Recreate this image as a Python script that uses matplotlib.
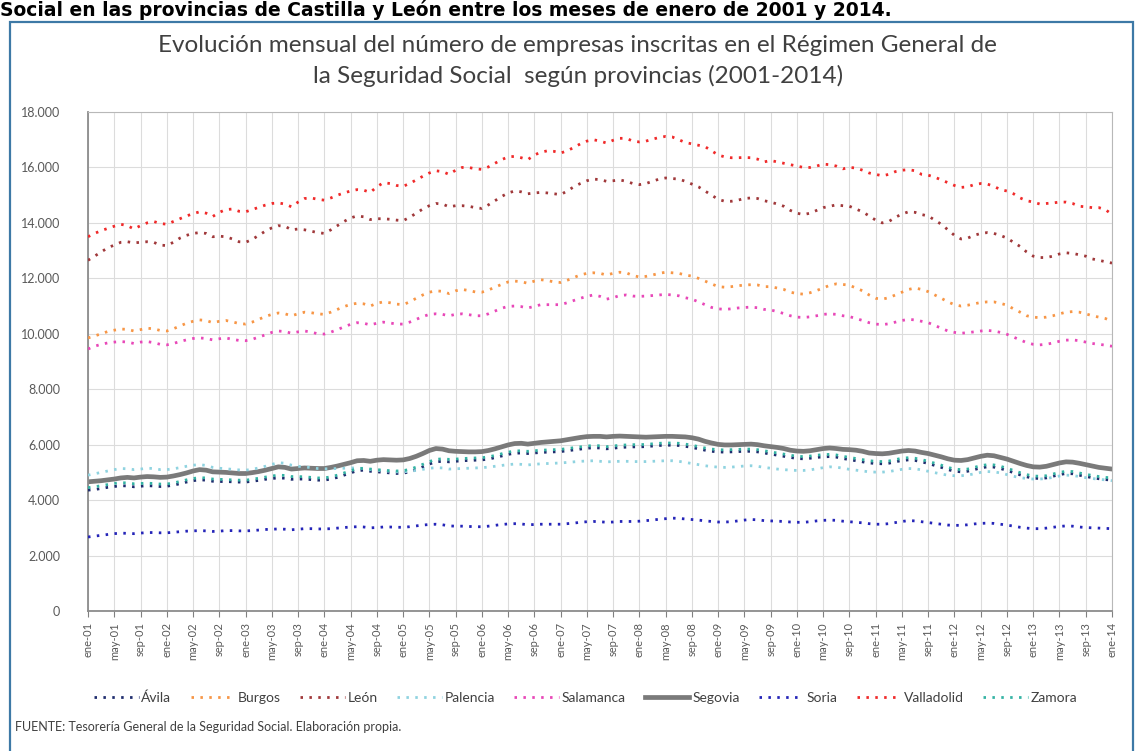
import numpy as np
import matplotlib
matplotlib.use("Agg")
import matplotlib.pyplot as plt
from matplotlib.patches import Rectangle
from matplotlib.lines import Line2D
from matplotlib.ticker import FuncFormatter

# monthly values, ene-01 ... ene-14 (157 months)
avila = [4360, 4380, 4420, 4460, 4490, 4520, 4510, 4480, 4500, 4520, 4510, 4490,
         4500, 4540, 4590, 4650, 4700, 4730, 4720, 4680, 4670, 4670, 4660, 4650,
         4650, 4680, 4710, 4750, 4780, 4800, 4790, 4750, 4760, 4760, 4740, 4720,
         4720, 4760, 4820, 4900, 4980, 5060, 5080, 5040, 5020, 5000, 4980, 4960,
         4970, 5020, 5100, 5200, 5300, 5380, 5400, 5380, 5400, 5420, 5430, 5440,
         5450, 5480, 5530, 5590, 5650, 5690, 5700, 5680, 5700, 5720, 5730, 5740,
         5750, 5780, 5810, 5840, 5870, 5890, 5880, 5850, 5870, 5900, 5910, 5920,
         5920, 5930, 5950, 5970, 5980, 5980, 5970, 5940, 5900, 5850, 5800, 5760,
         5740, 5730, 5740, 5750, 5760, 5760, 5740, 5700, 5660, 5620, 5580, 5540,
         5500, 5490, 5510, 5540, 5560, 5570, 5550, 5500, 5460, 5420, 5380, 5340,
         5320, 5310, 5330, 5380, 5430, 5450, 5430, 5380, 5320, 5250, 5180, 5100,
         5040, 5020, 5040, 5100, 5160, 5200, 5190, 5140, 5070, 4990, 4910, 4840,
         4790, 4780, 4800, 4860, 4920, 4960, 4950, 4900, 4850, 4810, 4770, 4740,
         4720]
burgos = [9850, 9920, 10000, 10080, 10130, 10170, 10160, 10100, 10150, 10200, 10180, 10120,
          10100, 10180, 10280, 10380, 10450, 10500, 10480, 10400, 10450, 10480, 10430, 10370,
          10350, 10420, 10520, 10620, 10700, 10750, 10720, 10650, 10720, 10780, 10760, 10720,
          10700, 10780, 10880, 10980, 11060, 11100, 11080, 11000, 11100, 11150, 11120, 11070,
          11050, 11150, 11280, 11400, 11500, 11550, 11530, 11450, 11550, 11600, 11560, 11510,
          11500, 11580, 11680, 11780, 11870, 11900, 11880, 11820, 11900, 11950, 11920, 11870,
          11850, 11930, 12030, 12120, 12180, 12200, 12180, 12120, 12180, 12220, 12200, 12100,
          12050, 12070, 12120, 12180, 12220, 12200, 12180, 12120, 12080, 12000, 11900, 11800,
          11700, 11680, 11700, 11730, 11760, 11770, 11760, 11700, 11700, 11650, 11600, 11500,
          11450, 11430, 11480, 11560, 11650, 11750, 11800, 11780, 11750, 11650, 11550, 11400,
          11280, 11250, 11300, 11400, 11500, 11600, 11650, 11600, 11520, 11400, 11280, 11150,
          11050, 11000, 11030, 11080, 11130, 11150, 11150, 11100, 11030, 10900, 10780, 10650,
          10600, 10580, 10600, 10650, 10720, 10780, 10800, 10780, 10720, 10650, 10600, 10550,
          10450]
leon = [12650, 12800, 12950, 13100, 13200, 13300, 13320, 13280, 13300, 13320, 13300, 13200,
        13180, 13300, 13450, 13550, 13620, 13650, 13620, 13500, 13520, 13500, 13420, 13320,
        13300, 13400, 13550, 13700, 13820, 13900, 13880, 13750, 13780, 13750, 13700, 13650,
        13620, 13750, 13900, 14050, 14180, 14250, 14220, 14120, 14150, 14150, 14130, 14100,
        14080, 14200, 14350, 14500, 14620, 14700, 14680, 14580, 14620, 14620, 14600, 14550,
        14520, 14650, 14800, 14950, 15080, 15150, 15120, 15050, 15080, 15100, 15080, 15050,
        15020, 15150, 15300, 15420, 15520, 15580, 15560, 15500, 15520, 15550, 15500, 15420,
        15380, 15420, 15500, 15580, 15620, 15600, 15580, 15500, 15400, 15300, 15150, 15000,
        14850, 14780, 14780, 14820, 14880, 14900, 14880, 14800, 14750, 14680, 14600, 14450,
        14350, 14300, 14350, 14450, 14550, 14600, 14650, 14620, 14600, 14500, 14400, 14250,
        14100, 14000, 14050, 14200, 14320, 14400, 14380, 14300, 14250, 14100, 13950, 13750,
        13550, 13420, 13450, 13550, 13620, 13650, 13620, 13550, 13450, 13300, 13150, 12950,
        12800, 12750, 12750, 12800, 12880, 12920, 12900, 12850, 12800, 12700, 12650, 12600,
        12550]
palencia = [4900, 4950, 5000, 5050, 5100, 5140, 5130, 5100, 5120, 5150, 5140, 5100,
            5100, 5130, 5170, 5220, 5260, 5280, 5250, 5180, 5150, 5130, 5110, 5090,
            5080, 5110, 5160, 5220, 5290, 5350, 5330, 5260, 5220, 5200, 5170, 5140,
            5130, 5130, 5140, 5150, 5160, 5160, 5140, 5100, 5080, 5060, 5040, 5020,
            5020, 5040, 5070, 5110, 5150, 5170, 5160, 5120, 5130, 5140, 5150, 5160,
            5170, 5190, 5220, 5250, 5280, 5300, 5290, 5270, 5290, 5310, 5320, 5330,
            5340, 5360, 5380, 5400, 5410, 5420, 5400, 5380, 5390, 5400, 5400, 5390,
            5390, 5390, 5400, 5410, 5420, 5420, 5400, 5360, 5320, 5280, 5240, 5210,
            5190, 5180, 5190, 5210, 5230, 5240, 5220, 5180, 5150, 5120, 5100, 5080,
            5070, 5070, 5090, 5130, 5170, 5200, 5190, 5150, 5110, 5080, 5050, 5020,
            5010, 5010, 5030, 5070, 5110, 5140, 5130, 5090, 5040, 4990, 4940, 4900,
            4880, 4880, 4900, 4950, 5000, 5030, 5020, 4980, 4920, 4860, 4810, 4780,
            4760, 4760, 4780, 4820, 4870, 4900, 4890, 4850, 4810, 4780, 4750, 4730,
            4700]
salamanca = [9450, 9550, 9620, 9670, 9700, 9720, 9700, 9650, 9700, 9720, 9680, 9620,
             9600, 9650, 9720, 9780, 9830, 9850, 9830, 9780, 9820, 9850, 9800, 9760,
             9750, 9800, 9880, 9960, 10050, 10100, 10080, 10020, 10070, 10100, 10060, 10000,
             9990, 10060, 10150, 10250, 10340, 10400, 10380, 10320, 10380, 10420, 10390, 10350,
             10350, 10420, 10520, 10620, 10700, 10720, 10700, 10650, 10700, 10720, 10690, 10650,
             10650, 10720, 10820, 10920, 10990, 11000, 10980, 10930, 10990, 11050, 11050, 11050,
             11050, 11120, 11200, 11280, 11350, 11400, 11350, 11250, 11300, 11380, 11400, 11360,
             11350, 11360, 11380, 11400, 11420, 11400, 11370, 11300, 11250, 11150, 11050, 10950,
             10900, 10880, 10900, 10930, 10950, 10960, 10940, 10880, 10860, 10800, 10730, 10650,
             10600, 10590, 10610, 10650, 10700, 10720, 10700, 10650, 10620, 10550, 10480, 10400,
             10350, 10330, 10360, 10420, 10480, 10520, 10500, 10450, 10400, 10300, 10200, 10100,
             10050, 10020, 10040, 10070, 10100, 10120, 10100, 10050, 9980, 9880, 9780, 9680,
             9620, 9600, 9620, 9670, 9730, 9770, 9780, 9750, 9700, 9650, 9620, 9590,
             9550]
segovia = [4660, 4680, 4700, 4730, 4760, 4800, 4820, 4800, 4830, 4850, 4840, 4820,
           4830, 4870, 4920, 4980, 5050, 5100, 5080, 5020, 5010, 5000, 4980, 4960,
           4960, 4990, 5030, 5080, 5140, 5200, 5180, 5120, 5140, 5160, 5150, 5140,
           5140, 5180, 5230, 5290, 5350, 5420, 5430, 5400, 5440, 5460, 5450, 5440,
           5450, 5500, 5580, 5680, 5790, 5860, 5840, 5780, 5760, 5750, 5740, 5740,
           5750, 5790, 5850, 5920, 5990, 6040, 6050, 6020, 6050, 6080, 6100, 6120,
           6140, 6180, 6220, 6260, 6290, 6300, 6300, 6280, 6300, 6310, 6300, 6290,
           6280, 6270, 6280, 6290, 6300, 6300, 6290, 6280, 6250, 6200, 6120, 6060,
           6010, 5990, 5990, 6000, 6010, 6020, 6000, 5960, 5930, 5900, 5860, 5800,
           5770, 5760, 5780, 5820, 5860, 5880, 5860, 5830, 5820, 5800, 5760, 5700,
           5680, 5670, 5690, 5730, 5770, 5790, 5770, 5720, 5680, 5620, 5560, 5490,
           5440, 5430, 5460, 5520, 5580, 5620, 5600, 5540, 5480, 5400, 5320, 5250,
           5200, 5190, 5220, 5280, 5340, 5380, 5370, 5330, 5280, 5230, 5180, 5150,
           5120]
soria = [2670, 2700, 2730, 2760, 2790, 2810, 2800, 2790, 2810, 2830, 2830, 2820,
         2820, 2840, 2860, 2880, 2890, 2900, 2890, 2870, 2880, 2900, 2900, 2890,
         2890, 2900, 2920, 2940, 2950, 2960, 2950, 2930, 2950, 2970, 2970, 2960,
         2960, 2970, 2990, 3010, 3030, 3040, 3030, 3000, 3010, 3030, 3030, 3020,
         3020, 3040, 3070, 3100, 3120, 3130, 3110, 3070, 3060, 3060, 3050, 3040,
         3040, 3060, 3090, 3120, 3140, 3150, 3140, 3110, 3120, 3130, 3130, 3130,
         3130, 3150, 3170, 3200, 3220, 3230, 3220, 3200, 3210, 3230, 3230, 3230,
         3240, 3260, 3280, 3310, 3330, 3350, 3340, 3320, 3300, 3280, 3250, 3230,
         3210, 3210, 3220, 3250, 3280, 3300, 3290, 3260, 3250, 3240, 3230, 3210,
         3200, 3200, 3220, 3250, 3270, 3280, 3270, 3240, 3220, 3200, 3180, 3150,
         3130, 3130, 3150, 3190, 3230, 3260, 3250, 3220, 3190, 3160, 3130, 3100,
         3090, 3090, 3110, 3140, 3160, 3170, 3160, 3130, 3100, 3060, 3020, 2990,
         2970, 2970, 2990, 3020, 3050, 3070, 3060, 3030, 3010, 3000, 2990, 2980,
         2970]
valladolid = [13500, 13620, 13720, 13800, 13880, 13950, 13900, 13780, 13900, 14000, 14050, 13980,
              13950, 14050, 14150, 14250, 14330, 14400, 14350, 14230, 14380, 14480, 14500, 14420,
              14400, 14480, 14560, 14640, 14700, 14720, 14680, 14580, 14750, 14880, 14900, 14850,
              14820, 14900, 15000, 15080, 15150, 15200, 15180, 15100, 15300, 15450, 15420, 15350,
              15320, 15420, 15550, 15680, 15800, 15880, 15850, 15750, 15900, 16000, 16000, 15950,
              15930, 16020, 16150, 16280, 16380, 16400, 16350, 16280, 16450, 16550, 16600, 16580,
              16520, 16600, 16720, 16850, 16950, 17000, 16950, 16880, 16980, 17050, 17050, 16950,
              16920, 16950, 17020, 17080, 17120, 17100, 17000, 16900, 16850, 16800, 16750, 16600,
              16450, 16380, 16350, 16350, 16360, 16350, 16300, 16200, 16250, 16200, 16150, 16100,
              16050, 16000, 16000, 16050, 16120, 16100, 16050, 15950, 16000, 15980, 15900, 15800,
              15750, 15700, 15750, 15850, 15900, 15920, 15880, 15750, 15720, 15650, 15550, 15450,
              15350, 15280, 15300, 15380, 15420, 15400, 15320, 15200, 15150, 15050, 14900, 14800,
              14750, 14680, 14700, 14720, 14750, 14750, 14700, 14600, 14580, 14550, 14550, 14480,
              14300]
zamora = [4450, 4480, 4520, 4560, 4600, 4630, 4620, 4590, 4600, 4610, 4600, 4580,
          4580, 4620, 4670, 4730, 4780, 4810, 4800, 4760, 4750, 4740, 4730, 4720,
          4720, 4750, 4790, 4830, 4870, 4900, 4890, 4850, 4850, 4840, 4820, 4800,
          4800, 4840, 4900, 4980, 5060, 5130, 5150, 5120, 5100, 5080, 5060, 5050,
          5060, 5110, 5190, 5290, 5390, 5470, 5490, 5470, 5480, 5500, 5510, 5520,
          5530, 5560, 5610, 5670, 5730, 5770, 5780, 5760, 5780, 5800, 5810, 5820,
          5830, 5860, 5890, 5920, 5950, 5970, 5960, 5930, 5950, 5980, 5990, 6000,
          6000, 6010, 6030, 6050, 6060, 6060, 6050, 6020, 5980, 5930, 5880, 5840,
          5820, 5810, 5820, 5830, 5840, 5840, 5820, 5780, 5740, 5700, 5660, 5620,
          5580, 5570, 5590, 5620, 5640, 5650, 5630, 5580, 5540, 5500, 5460, 5420,
          5400, 5390, 5410, 5460, 5510, 5530, 5510, 5460, 5400, 5330, 5260, 5180,
          5120, 5100, 5120, 5180, 5240, 5280, 5270, 5220, 5150, 5070, 4990, 4920,
          4870, 4860, 4880, 4940, 5000, 5040, 5030, 4980, 4930, 4890, 4850, 4820,
          4800]

meses = ["ene", "feb", "mar", "abr", "may", "jun", "jul", "ago", "sep", "oct", "nov", "dic"]
tick_pos = list(range(0, 157, 4))
tick_labels = [f"{meses[m % 12]}-{1 + m // 12:02d}" for m in tick_pos]

provincias = ["Ávila", "Burgos", "León", "Palencia", "Salamanca",
              "Segovia", "Soria", "Valladolid", "Zamora"]
series = [avila, burgos, leon, palencia, salamanca, segovia, soria, valladolid, zamora]
colores = ["#1f2d6e", "#f79646", "#a0383a", "#8fd3e0", "#e848b8",
           "#7a7a7a", "#2424b8", "#f02a2a", "#34b3a4"]

dotted = (0, (0.9, 2.3))

fig = plt.figure(figsize=(11.37, 7.51), dpi=100)
fig.patch.set_facecolor("white")

# caption line above the chart box
fig.text(0.0, 1 - 16 / 751, "Social en las provincias de Castilla y León entre los meses de enero de 2001 y 2014.",
         fontsize=13.5, fontweight="bold", family="DejaVu Sans", color="black", va="baseline", ha="left")

# outer frame of the chart object
fig.patches.append(Rectangle((10 / 1137, -0.02), 1123 / 1137, 1 - 22 / 751 + 0.02,
                             transform=fig.transFigure, fill=False, edgecolor="#3d79a6", lw=1.6))

fig.text(0.508, 0.94, "Evolución mensual del número de empresas inscritas en el Régimen General de",
         ha="center", va="center", fontsize=17.5, family="Lato", color="#404040")
fig.text(0.508, 0.899, "la Seguridad Social  según provincias (2001-2014)",
         ha="center", va="center", fontsize=17.5, family="Lato", color="#404040")

ax = fig.add_axes([88 / 1137, 1 - 611 / 751, (1112 - 88) / 1137, (611 - 112) / 751])
x = np.arange(len(avila))
for nombre, vals, col in zip(provincias, series, colores):
    if nombre == "Segovia":
        ax.plot(x, vals, color=col, lw=3.4, solid_capstyle="round", label=nombre, zorder=2)
    else:
        ax.plot(x, vals, color=col, lw=2.0, linestyle=dotted, label=nombre, zorder=3)

ax.set_xlim(0, 156)
ax.set_ylim(0, 18000)
ax.set_yticks(range(0, 18001, 2000))
ax.yaxis.set_major_formatter(FuncFormatter(lambda v, p: f"{int(v):,}".replace(",", ".")))
ax.set_xticks(tick_pos)
ax.set_xticklabels(tick_labels, rotation=90, fontsize=8, family="Lato", color="#595959")
ax.tick_params(axis="y", labelsize=9, labelcolor="#595959", length=0, pad=20)
ax.tick_params(axis="x", length=4, color="#808080", pad=4)
for t in ax.get_yticklabels():
    t.set_family("Lato")
ax.grid(True, color="#dcdcdc", lw=0.8)
ax.set_axisbelow(True)
for s in ["top", "right"]:
    ax.spines[s].set_color("#b8b8b8")
for s in ["left", "bottom"]:
    ax.spines[s].set_color("#8c8c8c")
    ax.spines[s].set_linewidth(1.3)

handles = []
for nombre, col in zip(provincias, colores):
    if nombre == "Segovia":
        handles.append(Line2D([], [], color=col, lw=3.4))
    else:
        handles.append(Line2D([], [], color=col, lw=2.0, linestyle=dotted))
fig.legend(handles, provincias, loc="center", bbox_to_anchor=(0.515, 1 - 698 / 751), ncol=9,
           frameon=False, prop={"family": "Lato", "size": 10}, handlelength=3.2,
           handletextpad=0.2, columnspacing=1.4, labelcolor="#404040")

fig.text(15 / 1137, 1 - 727 / 751, "FUENTE: Tesorería General de la Seguridad Social. Elaboración propia.",
         fontsize=9, family="Lato", color="#404040", va="center", ha="left")

fig.savefig("out.png", dpi=100)
